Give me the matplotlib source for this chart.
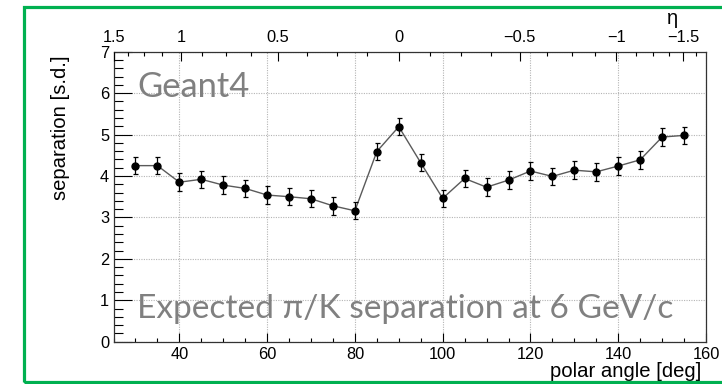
import numpy as np
import matplotlib
matplotlib.use("Agg")
import matplotlib.pyplot as plt
from matplotlib.patches import Rectangle
from matplotlib.ticker import MultipleLocator, FixedLocator

# polar angle bins [deg] and pi/K separation [s.d.]
polar_angle = [30, 35, 40, 45, 50, 55, 60, 65, 70, 75, 80, 85, 90,
               95, 100, 105, 110, 115, 120, 125, 130, 135, 140, 145, 150, 155]
separation = [4.25, 4.25, 3.85, 3.92, 3.78, 3.70, 3.54, 3.50, 3.45, 3.28, 3.16,
              4.59, 5.19, 4.32, 3.46, 3.94, 3.73, 3.90, 4.12, 3.99, 4.14, 4.10,
              4.24, 4.39, 4.94, 4.98]
sep_err = [0.21, 0.21, 0.21, 0.21, 0.21, 0.21, 0.21, 0.21, 0.21, 0.21, 0.21,
           0.21, 0.21, 0.21, 0.21, 0.21, 0.21, 0.21, 0.21, 0.21, 0.21, 0.21,
           0.21, 0.21, 0.21, 0.21]

# pseudorapidity axis on top
eta_major = [1.5, 1.0, 0.5, 0.0, -0.5, -1.0, -1.5]
eta_labels = ["1.5", "1", "0.5", "0", "\u22120.5", "\u22121", "\u22121.5"]
eta_minor = list(np.arange(1.5, -1.7, -0.125))


def eta_to_theta(eta):
    return np.degrees(2.0 * np.arctan(np.exp(-np.asarray(eta, dtype=float))))


W, H = 722, 384
fig = plt.figure(figsize=(W / 100, H / 100), dpi=100)
fig.patch.set_facecolor("white")

ax_l, ax_r, ax_t, ax_b = 113.5, 706.0, 51.7, 341.7
ax = fig.add_axes([ax_l / W, 1 - ax_b / H, (ax_r - ax_l) / W, (ax_b - ax_t) / H])

tick_font = dict(family=["Liberation Sans", "DejaVu Sans"], size=11.8)
label_font = dict(family=["Liberation Sans", "DejaVu Sans"], size=14.6)

ax.plot(polar_angle, separation, color="#5a5a5a", lw=1.0, zorder=3)
ax.errorbar(polar_angle, separation, yerr=sep_err, fmt="o", color="black",
            ms=5, elinewidth=0.9, capsize=1.8, capthick=0.9, zorder=4)

ax.set_xlim(25, 160)
ax.set_ylim(0, 7)
ax.xaxis.set_major_locator(MultipleLocator(20))
ax.xaxis.set_minor_locator(MultipleLocator(5))
ax.yaxis.set_major_locator(MultipleLocator(1))
ax.yaxis.set_minor_locator(MultipleLocator(0.2))
ax.grid(True, which="major", ls=(0, (1, 1.2)), color="#b4b4b4", lw=0.8, zorder=0)

ax.tick_params(axis="x", which="major", direction="in", length=6.3, width=0.8,
               pad=3.6, top=False, bottom=True)
ax.tick_params(axis="x", which="minor", direction="in", length=3.2, width=0.8,
               top=False, bottom=True)
ax.tick_params(axis="y", which="major", direction="in", length=12.8, width=0.8,
               pad=3.2, right=False, left=True)
ax.tick_params(axis="y", which="minor", direction="in", length=6.4, width=0.8,
               right=False, left=True)
for lab in ax.get_xticklabels() + ax.get_yticklabels():
    lab.set_fontfamily(tick_font["family"])
    lab.set_fontsize(tick_font["size"])
for sp in ax.spines.values():
    sp.set_linewidth(0.9)
    sp.set_color("#333333")

# top eta axis
ax2 = ax.twiny()
ax2.set_xlim(25, 160)
ax2.xaxis.set_major_locator(FixedLocator(eta_to_theta(eta_major)))
ax2.xaxis.set_minor_locator(FixedLocator(eta_to_theta(eta_minor)))
ax2.set_xticklabels(eta_labels)
ax2.tick_params(axis="x", which="major", direction="in", length=6.3, width=0.8,
                pad=4.5)
ax2.tick_params(axis="x", which="minor", direction="in", length=3.2, width=0.8)
for lab in ax2.get_xticklabels():
    lab.set_fontfamily(tick_font["family"])
    lab.set_fontsize(tick_font["size"])
for sp in ax2.spines.values():
    sp.set_visible(False)

# axis titles
fig.text(61 / W, 1 - 55 / H, "separation [s.d.]", rotation=90,
         ha="center", va="top", **label_font)
fig.text(701.7 / W, 1 - 377 / H, "polar angle [deg]", ha="right",
         va="baseline", **label_font)
fig.text(673 / W, 1 - 24 / H, "\u03b7", ha="center", va="baseline",
         **label_font)

# annotations
note_family = ["Lato", "DejaVu Sans"]
fig.text(137 / W, 1 - 96.7 / H, "Geant4", ha="left", va="baseline",
         family=note_family, color="#808080", size=24.8)
fig.text(137 / W, 1 - 317.7 / H, "Expected \u03c0/K separation at 6 GeV/c",
         ha="left", va="baseline", family=note_family, color="#808080",
         size=24.1)

# slide frame
fig.add_artist(Rectangle((24.3 / W, 1 - 382 / H), 1.0, (382 - 7) / H,
                         transform=fig.transFigure, fill=False,
                         ec="#00B050", lw=2.3, zorder=10))

fig.savefig("out.png", dpi=100, facecolor="white")
